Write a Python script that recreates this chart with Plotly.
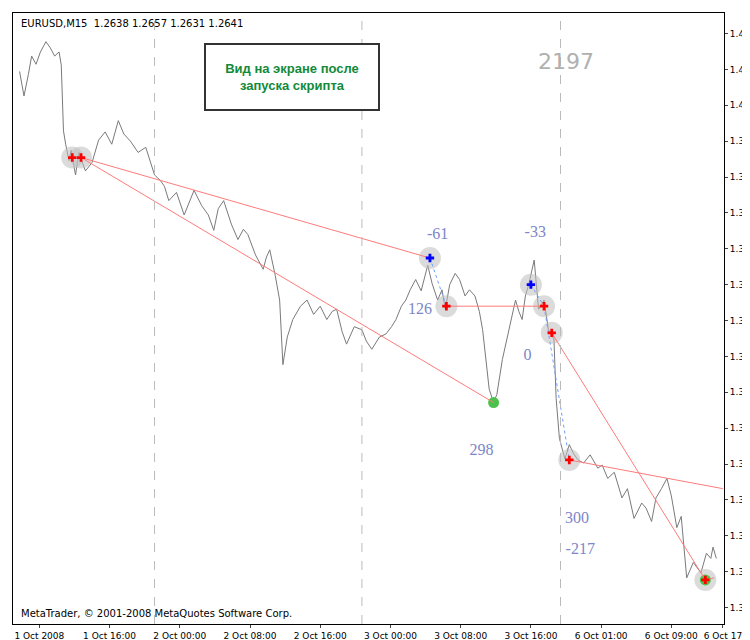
import plotly.graph_objs as go

# close price, M15 bars (bar 0 = 1 Oct 2008 00:00)
bars = [-18, -16, -14, -10, -7, -3, 1, 6, 10, 14, 18, 20, 22, 24, 27, 29, 33, 36, 42, 48, 54, 60, 66, 72, 77, 83,
        90, 97, 105, 110, 114, 118, 125, 132, 136, 141, 148, 154, 159, 163, 168, 175, 181, 186, 190, 197, 204, 207,
        210, 215, 219, 222, 226, 231, 238, 244, 250, 256, 262, 267, 271, 276, 280, 287, 294, 298, 303, 310, 316,
        321, 325, 330, 334, 338, 343, 348, 354, 358, 363, 367, 370, 374, 379, 383, 388, 392, 397, 401, 404, 410,
        414, 417, 422, 428, 434, 437, 440, 443, 446, 451, 455, 460, 464, 469, 471, 474, 479, 483, 487, 491, 496,
        502, 509, 513, 518, 524, 531, 536, 542, 549, 553, 558, 562, 567, 572, 576, 581, 585, 590, 596, 603, 608,
        612, 614, 617, 619, 623]
close = [1.3559, 1.3545, 1.3535, 1.3556, 1.3574, 1.3566, 1.3578, 1.3588, 1.3582, 1.3574, 1.3578, 1.3565, 1.3501,
         1.3488, 1.3472, 1.3482, 1.3458, 1.3480, 1.3462, 1.3470, 1.3492, 1.3500, 1.3488, 1.3511, 1.3498, 1.3491,
         1.3480, 1.3485, 1.3458, 1.3453, 1.3447, 1.3433, 1.3441, 1.3419, 1.3430, 1.3443, 1.3428, 1.3419, 1.3404,
         1.3425, 1.3433, 1.3410, 1.3395, 1.3405, 1.3400, 1.3380, 1.3366, 1.3378, 1.3385, 1.3360, 1.3336, 1.3273,
         1.3300, 1.3317, 1.3330, 1.3336, 1.3322, 1.3330, 1.3317, 1.3325, 1.3327, 1.3305, 1.3293, 1.3310, 1.3307,
         1.3296, 1.3288, 1.3300, 1.3303, 1.3310, 1.3317, 1.3330, 1.3336, 1.3346, 1.3356, 1.3345, 1.3370, 1.3352,
         1.3336, 1.3346, 1.3327, 1.3351, 1.3362, 1.3356, 1.3340, 1.3346, 1.3340, 1.3325, 1.3307, 1.3249, 1.3236,
         1.3244, 1.3278, 1.3307, 1.3336, 1.3325, 1.3317, 1.3340, 1.3351, 1.3375, 1.3327, 1.3336, 1.3307, 1.3298,
         1.3240, 1.3201, 1.3181, 1.3195, 1.3186, 1.3180, 1.3177, 1.3185, 1.3172, 1.3175, 1.3162, 1.3168, 1.3143,
         1.3152, 1.3123, 1.3138, 1.3133, 1.3120, 1.3143, 1.3152, 1.3162, 1.3145, 1.3114, 1.3125, 1.3065, 1.3080,
         1.3070, 1.3089, 1.3084, 1.3095, 1.3084]

# marked points of the script
pt_bar = {'A1': 30, 'A': 38, 'B': 356, 'C': 371, 'D': 414, 'E': 448, 'F': 460, 'G': 467, 'H': 483, 'I': 607}
pt_px = {'A1': 1.3475, 'A': 1.3475, 'B': 1.3377, 'C': 1.3330, 'D': 1.3236, 'E': 1.3351, 'F': 1.3330,
         'G': 1.3304, 'H': 1.3180, 'I': 1.3063}
red_lines = [('A', 'B'), ('A', 'D'), ('C', 'F'), ('G', 'I')]
blue_dots = [('B', 'C'), ('E', 'F'), ('F', 'H')]
labels = ['-61', '-33', '126', '0', '298', '300', '-217']
label_bar = [363, 452, 347, 445, 403, 490, 493]
label_px = [1.3399, 1.3401, 1.3326, 1.3281, 1.3189, 1.3122, 1.3092]

tick_bars = [0, 64, 128, 192, 256, 320, 384, 448, 512, 576, 623]
tick_text = ['1 Oct 2008', '1 Oct 16:00', '2 Oct 00:00', '2 Oct 08:00', '2 Oct 16:00', '3 Oct 00:00',
             '3 Oct 08:00', '3 Oct 16:00', '6 Oct 01:00', '6 Oct 09:00', '6 Oct 17']
day_bars = [105, 294, 475]

fig = go.Figure()
fig.add_trace(go.Scatter(x=bars, y=close, mode='lines', line=dict(color='#7a7a7a', width=1)))

# halo circles
halo = ['A1', 'A', 'B', 'C', 'E', 'F', 'G', 'H', 'I']
fig.add_trace(go.Scatter(x=[pt_bar[k] for k in halo], y=[pt_px[k] for k in halo], mode='markers',
                         marker=dict(size=22, color='rgba(190,190,190,0.55)')))
fig.add_trace(go.Scatter(x=[pt_bar[k] for k in ['D', 'I']], y=[pt_px[k] for k in ['D', 'I']], mode='markers',
                         marker=dict(size=11, color='#4cc24c')))

for a, b in red_lines:
    fig.add_trace(go.Scatter(x=[pt_bar[a], pt_bar[b]], y=[pt_px[a], pt_px[b]], mode='lines',
                             line=dict(color='#ff7b7b', width=1)))
fig.add_trace(go.Scatter(x=[pt_bar['H'], 623], y=[pt_px['H'], 1.3152], mode='lines',
                         line=dict(color='#ff7b7b', width=1)))
fig.add_trace(go.Scatter(x=[pt_bar['I'], 623], y=[pt_px['I'], 1.3067], mode='lines',
                         line=dict(color='#ff7b7b', width=1, dash='dash')))
for a, b in blue_dots:
    fig.add_trace(go.Scatter(x=[pt_bar[a], pt_bar[b]], y=[pt_px[a], pt_px[b]], mode='lines',
                             line=dict(color='#6f9fff', width=1, dash='dot')))

red_pts = ['A1', 'A', 'C', 'F', 'G', 'H', 'I']
blue_pts = ['B', 'E']
fig.add_trace(go.Scatter(x=[pt_bar[k] for k in red_pts], y=[pt_px[k] for k in red_pts], mode='markers',
                         marker=dict(symbol='cross', size=7, color='red')))
fig.add_trace(go.Scatter(x=[pt_bar[k] for k in blue_pts], y=[pt_px[k] for k in blue_pts], mode='markers',
                         marker=dict(symbol='cross', size=7, color='blue')))

fig.add_trace(go.Scatter(x=label_bar, y=label_px, mode='text', text=labels,
                         textfont=dict(family='Liberation Serif', size=16, color='#7c86c8')))

for d in day_bars:
    fig.add_vline(x=d, line=dict(color='#bbbbbb', width=1, dash='dash'))

fig.add_annotation(xref='paper', yref='paper', x=0.008, y=0.995, xanchor='left', yanchor='top', showarrow=False,
                   text='EURUSD,M15  1.2638 1.2657 1.2631 1.2641', font=dict(size=10, color='black'))
fig.add_annotation(xref='paper', yref='paper', x=0.008, y=0.005, xanchor='left', yanchor='bottom', showarrow=False,
                   text='MetaTrader, © 2001-2008 MetaQuotes Software Corp.', font=dict(size=10, color='black'))
fig.add_annotation(xref='paper', yref='paper', x=0.392, y=0.951, showarrow=False,
                   text='<b>Вид на экране после<br>запуска скрипта</b>', width=170, height=62,
                   bordercolor='#333333', borderwidth=2, bgcolor='white',
                   font=dict(size=13, color='#128a3a', family='Liberation Sans'))
fig.add_annotation(xref='paper', yref='paper', x=0.82, y=0.945, showarrow=False,
                   text='2197', font=dict(size=22, color='#b0b0b0'))

fig.update_layout(
    width=750, height=640, showlegend=False,
    margin=dict(l=5, r=34, t=5, b=24, autoexpand=False),
    plot_bgcolor='white', paper_bgcolor='white',
    font=dict(family='DejaVu Sans', size=9, color='black'),
    xaxis=dict(range=[-24, 624], tickvals=tick_bars, ticktext=tick_text, showgrid=False, zeroline=False,
               ticks='outside', ticklen=3, showline=True, linecolor='black', mirror=True, tickangle=0,
               automargin=False, tickfont=dict(size=9)),
    yaxis=dict(range=[1.3020, 1.3616], side='right', tick0=1.3036, dtick=0.0035, tickformat='.1f',
               showgrid=False, zeroline=False, ticks='outside', ticklen=3, showline=True, linecolor='black',
               mirror=True, automargin=False, tickfont=dict(size=9)),
)

fig.write_html("out.html")
